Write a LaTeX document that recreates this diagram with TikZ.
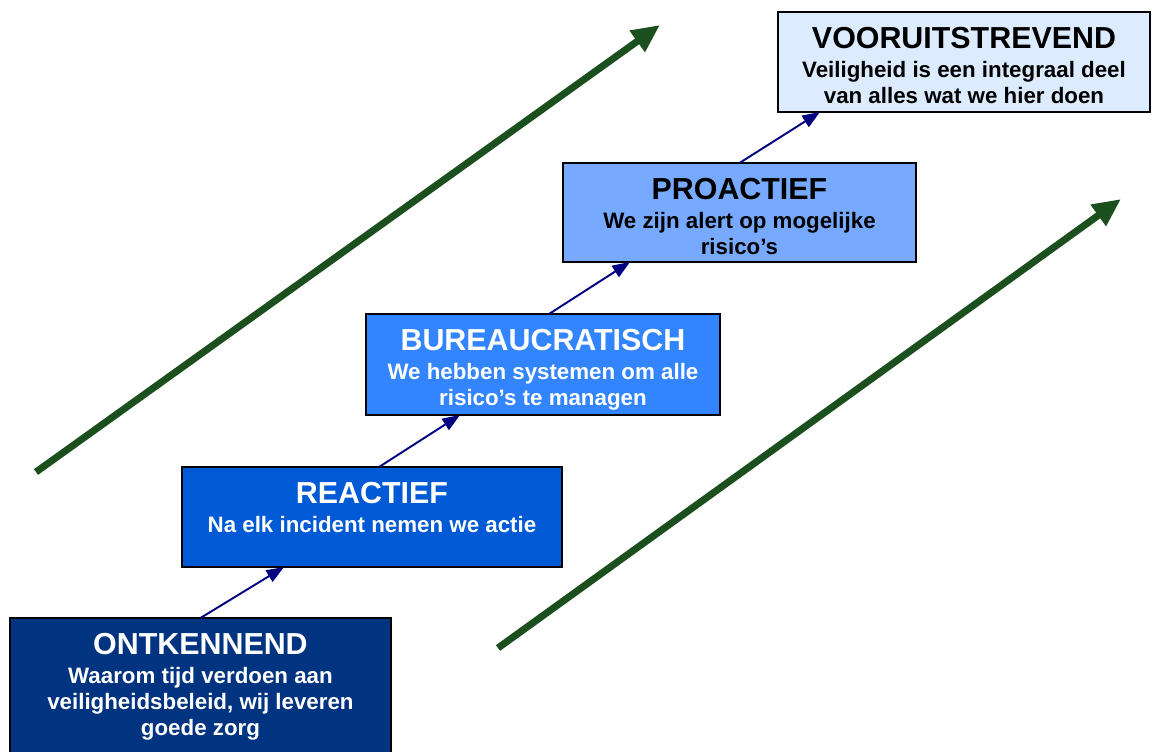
\documentclass[tikz,border=0pt]{standalone}
\usepackage{fontspec}
\setmainfont{Liberation Sans}
\usetikzlibrary{arrows.meta}

\definecolor{ontblue}{RGB}{0,51,128}
\definecolor{reablue}{RGB}{0,90,214}
\definecolor{burblue}{RGB}{51,133,255}
\definecolor{problue}{RGB}{119,170,255}
\definecolor{vooblue}{RGB}{221,235,255}
\definecolor{arrownavy}{RGB}{0,0,128}
\definecolor{trendgreen}{RGB}{27,79,30}

% box text: width, height, title, subtitle
\newcommand{\stagebox}[4]{%
  \begin{minipage}[t][#2][t]{#1}\centering
    {\fontsize{17.3}{20}\selectfont\rule{0pt}{21pt}#3\par}\vspace{1.7pt}
    {\fontsize{12.7}{14.7}\selectfont #4\par}
  \end{minipage}}

\begin{document}
\begin{tikzpicture}[x=0.02cm, y=-0.02cm]
        \tikzstyle{stage} = [draw=black, line width=1pt, anchor=north west, inner sep=0pt, outer sep=0pt, font=\bfseries]
        \tikzstyle{up} = [-{Triangle[length=10pt, width=7.5pt]}, draw=arrownavy, line width=1.1pt]
        \tikzstyle{trend} = [-{Triangle[length=16pt, width=14pt]}, draw=trendgreen, line width=4pt]
        \useasboundingbox (0,0) rectangle (1152,751);
        \node[stage, fill=ontblue, text=white] (ont) at (10,618) {\stagebox{7.62cm}{2.8cm}{ONTKENNEND}{Waarom tijd verdoen aan\\ veiligheidsbeleid, wij leveren\\ goede zorg}};
        \node[stage, fill=reablue, text=white] (rea) at (182,467) {\stagebox{7.6cm}{2cm}{REACTIEF}{Na elk incident nemen we actie}};
        \node[stage, fill=burblue, text=white] (bur) at (366,314) {\stagebox{7.08cm}{2.02cm}{BUREAUCRATISCH}{We hebben systemen om alle\\ risico’s te managen}};
        \node[stage, fill=problue] (pro) at (563,163) {\stagebox{7.06cm}{1.98cm}{PROACTIEF}{We zijn alert op mogelijke\\ risico’s}};
        \node[stage, fill=vooblue] (voo) at (778,12) {\stagebox{7.44cm}{2cm}{VOORUITSTREVEND}{Veiligheid is een integraal deel\\ van alles wat we hier doen}};
        \coordinate (reaIn) at (284,567);
        \coordinate (burIn) at (460,415);
        \coordinate (proIn) at (630,262);
        \coordinate (vooIn) at (820,112);
        \draw[up] (ont.north) -- (reaIn);
        \draw[up] (rea.north -| 379,0) -- (burIn);
        \draw[up] (bur.north -| 549,0) -- (proIn);
        \draw[up] (pro.north) -- (vooIn);
        \coordinate (trendLow) at (36,472);
        \coordinate (trendLowTip) at (660,25);
        \coordinate (trendHigh) at (498,648);
        \coordinate (trendHighTip) at (1121,199);
        \draw[trend] (trendLow) -- (trendLowTip);
        \draw[trend] (trendHigh) -- (trendHighTip);
      \end{tikzpicture}
\end{document}
